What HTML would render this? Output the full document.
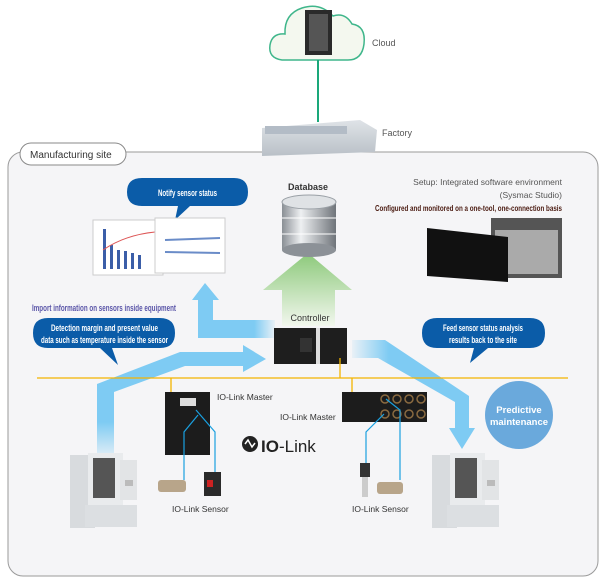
<!DOCTYPE html>
<html><head><meta charset="utf-8"><style>
html,body{margin:0;padding:0;background:#fff}
svg{display:block}
text{font-family:"Liberation Sans",sans-serif}
.cn{font-family:"Liberation Sans Narrow","Liberation Sans",sans-serif;font-weight:bold}
</style></head><body>
<svg width="604" height="581" viewBox="0 0 604 581" xmlns="http://www.w3.org/2000/svg">
<defs>
<linearGradient id="gr" x1="0" y1="0" x2="0" y2="1"><stop offset="0" stop-color="#8cc97a"/><stop offset="1" stop-color="#f2f7ee"/></linearGradient>
<linearGradient id="bl" x1="0" y1="0" x2="1" y2="0"><stop offset="0.75" stop-color="#7ecbf3"/><stop offset="1" stop-color="#7ecbf3" stop-opacity="0.1"/></linearGradient>
<linearGradient id="bl2" x1="0" y1="0" x2="1" y2="0"><stop offset="0" stop-color="#7ecbf3" stop-opacity="0.1"/><stop offset="0.3" stop-color="#7ecbf3"/></linearGradient>
<linearGradient id="bl3" x1="0" y1="1" x2="0" y2="0"><stop offset="0" stop-color="#7ecbf3" stop-opacity="0.2"/><stop offset="0.3" stop-color="#7ecbf3"/></linearGradient>
<linearGradient id="db" x1="0" y1="0" x2="1" y2="0"><stop offset="0" stop-color="#8a8f95"/><stop offset="0.35" stop-color="#eef0f2"/><stop offset="1" stop-color="#6f747a"/></linearGradient>
<linearGradient id="fac" x1="0" y1="0" x2="0" y2="1"><stop offset="0" stop-color="#dfe3e7"/><stop offset="1" stop-color="#b9c0c7"/></linearGradient>
</defs>
<path d="M282 60 Q268 58 270 45 Q272 33 285 34 Q284 14 302 8 Q320 2 333 16 Q345 12 352 24 Q366 26 364 44 Q362 60 348 60 Z" fill="#f4f8ef" stroke="#3fb68b" stroke-width="1.5"/>
<rect x="305" y="10" width="27" height="45" fill="#2a2a2a"/>
<rect x="309" y="14" width="19" height="37" fill="#555"/>
<line x1="318" y1="60" x2="318" y2="122" stroke="#1aa87a" stroke-width="2"/>
<text x="372" y="46" font-size="9" fill="#555">Cloud</text>
<rect x="8" y="152" width="590" height="424" rx="15" fill="#f5f5f7" stroke="#9a9a9a"/>
<path d="M262 128 L360 120 L377 130 L375 152 L262 156 Z" fill="url(#fac)"/>
<rect x="265" y="126" width="82" height="8" fill="#b3bcc6"/>
<text x="382" y="136" font-size="9" fill="#555">Factory</text>
<rect x="20" y="143" width="106" height="22" rx="11" fill="#fff" stroke="#8a8a8a"/>
<text x="30" y="158" font-size="10" fill="#333">Manufacturing site</text>
<text x="308" y="190" font-size="9" font-weight="bold" fill="#333" text-anchor="middle">Database</text>
<path d="M308 253 L352 290 L335 290 L335 326 L282 326 L282 290 L263 290 Z" fill="url(#gr)"/>
<rect x="282" y="202" width="54" height="48" fill="url(#db)"/>
<ellipse cx="309" cy="250" rx="27" ry="7" fill="#8c9197"/>
<ellipse cx="309" cy="202" rx="27" ry="7" fill="#dfe2e5" stroke="#9aa0a6"/>
<line x1="282" y1="218" x2="336" y2="218" stroke="#fff"/><line x1="282" y1="234" x2="336" y2="234" stroke="#fff"/>
<text x="310" y="321" font-size="9" fill="#333" text-anchor="middle">Controller</text>
<path d="M198 338 L198 300 L192 300 L205 283 L219 300 L213 300 L213 320 L275 320 L275 338 Z" fill="url(#bl)"/>
<path d="M97 455 L97 384 L180 352 L243 352 L243 345 L266 359 L243 372 L243 366 L185 366 L114 392 L114 455 Z" fill="url(#bl3)"/>
<path d="M352 340 L385 340 L469 396 L469 428 L475 428 L462 449 L449 428 L455 428 L455 402 L378 358 L352 358 Z" fill="url(#bl2)"/>
<rect x="274" y="328" width="73" height="36" fill="#1e1e1e"/>
<rect x="316" y="328" width="4" height="36" fill="#ddd"/>
<rect x="300" y="338" width="12" height="14" fill="#333"/>
<line x1="37" y1="378" x2="568" y2="378" stroke="#f4b400" stroke-width="1.3"/>
<line x1="340" y1="358" x2="340" y2="378" stroke="#f4b400" stroke-width="1.3"/>
<line x1="171" y1="378" x2="171" y2="412" stroke="#f4b400" stroke-width="1.3"/>
<line x1="352" y1="378" x2="352" y2="398" stroke="#f4b400" stroke-width="1.3"/>
<path d="M127 192 Q127 178 142 178 L234 178 Q248 178 248 192 Q248 206 234 206 L190 206 L175 220 L178 206 L142 206 Q127 206 127 192 Z" fill="#0b5ca8"/>
<text x="158" y="196" font-size="9" class="cn" fill="#fff" textLength="59" lengthAdjust="spacingAndGlyphs">Notify sensor status</text>
<path d="M33 333 Q33 318 48 318 L160 318 Q175 318 175 333 Q175 348 160 348 L112 348 L118 365 L100 348 L48 348 Q33 348 33 333 Z" fill="#0b5ca8"/>
<text x="51" y="331" font-size="9" class="cn" fill="#fff" textLength="107" lengthAdjust="spacingAndGlyphs">Detection margin and present value</text>
<text x="41" y="343" font-size="9" class="cn" fill="#fff" textLength="127" lengthAdjust="spacingAndGlyphs">data such as temperature inside the sensor</text>
<path d="M422 333 Q422 318 437 318 L530 318 Q545 318 545 333 Q545 348 530 348 L488 348 L470 363 L474 348 L437 348 Q422 348 422 333 Z" fill="#0b5ca8"/>
<text x="443" y="331" font-size="9" class="cn" fill="#fff" textLength="80" lengthAdjust="spacingAndGlyphs">Feed sensor status analysis</text>
<text x="449" y="343" font-size="9" class="cn" fill="#fff" textLength="68" lengthAdjust="spacingAndGlyphs">results back to the site</text>
<text x="32" y="311" font-size="9" class="cn" fill="#5a55a8" textLength="144" lengthAdjust="spacingAndGlyphs">Import information on sensors inside equipment</text>
<rect x="93" y="220" width="70" height="55" fill="#fff" stroke="#ccc"/>
<rect x="103" y="229" width="3" height="40" fill="#3b5ea8"/><rect x="110" y="245" width="3" height="24" fill="#3b5ea8"/><rect x="117" y="250" width="3" height="19" fill="#3b5ea8"/><rect x="124" y="251" width="3" height="18" fill="#3b5ea8"/><rect x="131" y="253" width="3" height="16" fill="#3b5ea8"/><rect x="138" y="255" width="3" height="14" fill="#3b5ea8"/>
<path d="M103 250 Q125 235 155 232" stroke="#d55" fill="none"/>
<rect x="155" y="218" width="70" height="55" fill="#fff" stroke="#ccc"/>
<path d="M165 240 L220 238 M165 252 L220 253" stroke="#6a8cc8" stroke-width="2"/>
<text x="562" y="185" font-size="8.5" fill="#555" text-anchor="end">Setup: Integrated software environment</text>
<text x="562" y="198" font-size="8.5" fill="#555" text-anchor="end">(Sysmac Studio)</text>
<text x="375" y="211" font-size="8.5" class="cn" fill="#4a1a10" textLength="187" lengthAdjust="spacingAndGlyphs">Configured and monitored on a one-tool, one-connection basis</text>
<rect x="491" y="218" width="71" height="60" fill="#555"/>
<rect x="495" y="230" width="63" height="44" fill="#aaa"/>
<path d="M427 228 L508 237 L508 282 L427 276 Z" fill="#111"/>
<rect x="165" y="392" width="45" height="63" fill="#1c1c1c"/>
<rect x="180" y="398" width="16" height="8" fill="#ddd"/>
<text x="217" y="400" font-size="8.5" fill="#333">IO-Link Master</text>
<rect x="342" y="392" width="85" height="30" fill="#1c1c1c"/>
<g fill="none" stroke="#8a6a40" stroke-width="1.5"><circle cx="385" cy="399" r="4"/><circle cx="397" cy="399" r="4"/><circle cx="409" cy="399" r="4"/><circle cx="421" cy="399" r="4"/><circle cx="385" cy="414" r="4"/><circle cx="397" cy="414" r="4"/><circle cx="409" cy="414" r="4"/><circle cx="421" cy="414" r="4"/></g>
<text x="280" y="420" font-size="8.5" fill="#333">IO-Link Master</text>
<g stroke="#1aa0e0" stroke-width="1.2" fill="none">
<path d="M198 415 L184 432 L184 480"/><path d="M196 410 L215 432 L215 472"/>
<path d="M384 414 L366 432 L366 470"/><path d="M386 399 L400 410 L400 480"/>
</g>
<rect x="158" y="480" width="28" height="12" rx="3" fill="#b8a58a"/>
<rect x="204" y="472" width="17" height="24" fill="#2a2a2a"/><rect x="207" y="480" width="6" height="7" fill="#c22"/>
<rect x="360" y="463" width="10" height="14" fill="#333"/><rect x="362" y="477" width="6" height="20" fill="#ccc"/>
<rect x="377" y="482" width="26" height="12" rx="3" fill="#b8a58a"/>
<text x="172" y="512" font-size="8.5" fill="#333">IO-Link Sensor</text>
<text x="352" y="512" font-size="8.5" fill="#333">IO-Link Sensor</text>
<circle cx="250" cy="444" r="8" fill="#222"/>
<path d="M245 444 L248 440 L252 447 L255 443" stroke="#fff" stroke-width="1.5" fill="none"/>
<text x="261" y="452" font-size="17" fill="#222"><tspan font-weight="bold">IO</tspan>-Link</text>
<circle cx="519" cy="415" r="34" fill="#6aa9dc"/>
<text x="519" y="413" font-size="9.5" font-weight="bold" fill="#fff" text-anchor="middle">Predictive</text>
<text x="519" y="425" font-size="9.5" font-weight="bold" fill="#fff" text-anchor="middle">maintenance</text>
<g id="m">
<rect x="70" y="455" width="25" height="73" fill="#d8dbde"/>
<rect x="88" y="453" width="35" height="62" fill="#e9ebed"/>
<rect x="93" y="458" width="22" height="40" fill="#555"/>
<rect x="120" y="460" width="17" height="40" fill="#e2e4e6"/>
<rect x="125" y="480" width="8" height="6" fill="#bbb"/>
<rect x="85" y="505" width="52" height="22" fill="#dcdfe2"/>
</g>
<use href="#m" x="362"/>
</svg>
</body></html>
